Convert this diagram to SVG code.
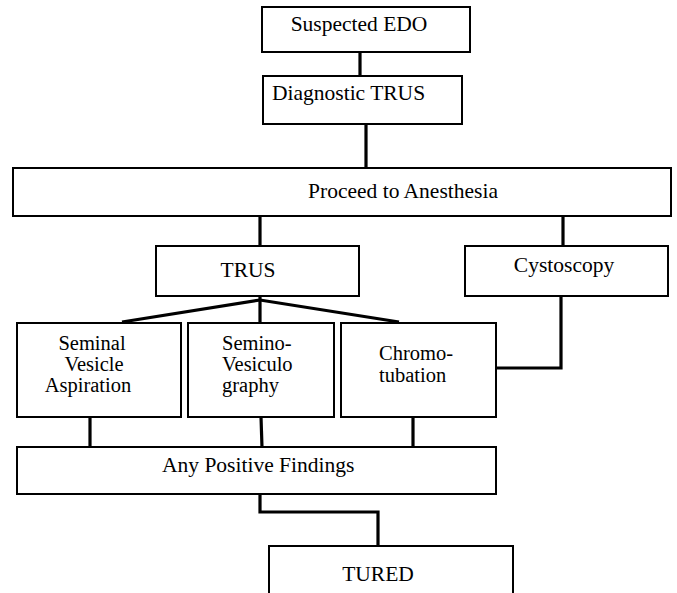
<svg xmlns="http://www.w3.org/2000/svg" width="677" height="593" viewBox="0 0 677 593">
<style>
.box{fill:#fff;stroke:#000;stroke-width:2}
.t{font-family:'Liberation Serif','DejaVu Serif',serif;font-size:21.5px;fill:#000}
.m{font-size:20.5px}
.c{fill:none;stroke:#000;stroke-width:3.2}
</style>
<rect width="677" height="593" fill="#fff"/>
<g id="connectors">
<line class="c" x1="360" y1="52" x2="360" y2="76"/>
<line class="c" x1="366" y1="124" x2="366" y2="168"/>
<line class="c" x1="260" y1="216" x2="260" y2="246"/>
<line class="c" x1="563" y1="215" x2="563" y2="246"/>
<polyline class="c" points="122,322 260,300 399,322"/>
<line class="c" x1="260" y1="296" x2="260" y2="322"/>
<polyline class="c" points="561,296 561,368 496,368"/>
<line class="c" x1="90" y1="417" x2="90" y2="447"/>
<line class="c" x1="261" y1="417" x2="262" y2="447"/>
<line class="c" x1="413" y1="417" x2="413" y2="446"/>
<polyline class="c" points="260,494 260,512 378,512 378,545"/>
</g>
<g id="suspected-edo">
<rect class="box" x="262" y="7" width="208" height="45"/>
<text class="t" x="359" y="31" text-anchor="middle" font-family="Liberation Serif, serif">Suspected EDO</text>
</g>
<g id="diagnostic-trus">
<rect class="box" x="263" y="76" width="199" height="48"/>
<text class="t" x="272" y="100">Diagnostic TRUS</text>
</g>
<g id="proceed-anesthesia">
<rect class="box" x="13" y="168" width="658" height="48"/>
<text class="t" x="403" y="198" text-anchor="middle">Proceed to Anesthesia</text>
</g>
<g id="trus">
<rect class="box" x="156" y="246" width="203" height="50"/>
<text class="t" x="248" y="277" text-anchor="middle">TRUS</text>
</g>
<g id="cystoscopy">
<rect class="box" x="465" y="246" width="203" height="50"/>
<text class="t" x="564" y="272" text-anchor="middle">Cystoscopy</text>
</g>
<g id="seminal-vesicle-aspiration">
<rect class="box" x="17" y="323" width="164" height="94"/>
<text class="t m" text-anchor="middle"><tspan x="92" y="350">Seminal</tspan><tspan x="94" y="371">Vesicle</tspan><tspan x="88" y="392">Aspiration</tspan></text>
</g>
<g id="semino-vesiculography">
<rect class="box" x="188" y="323" width="146" height="94"/>
<text class="t m"><tspan x="222" y="350">Semino-</tspan><tspan x="222" y="371">Vesiculo</tspan><tspan x="222" y="392">graphy</tspan></text>
</g>
<g id="chromotubation">
<rect class="box" x="341" y="323" width="155" height="94"/>
<text class="t m"><tspan x="379" y="360">Chromo-</tspan><tspan x="379" y="382">tubation</tspan></text>
</g>
<g id="any-positive-findings">
<rect class="box" x="17" y="447" width="479" height="47"/>
<text class="t" x="162" y="472">Any Positive Findings</text>
</g>
<g id="tured">
<path class="box" d="M269,600 V546 H513 V600"/>
<text class="t" x="378" y="581" text-anchor="middle">TURED</text>
</g>
</svg>
